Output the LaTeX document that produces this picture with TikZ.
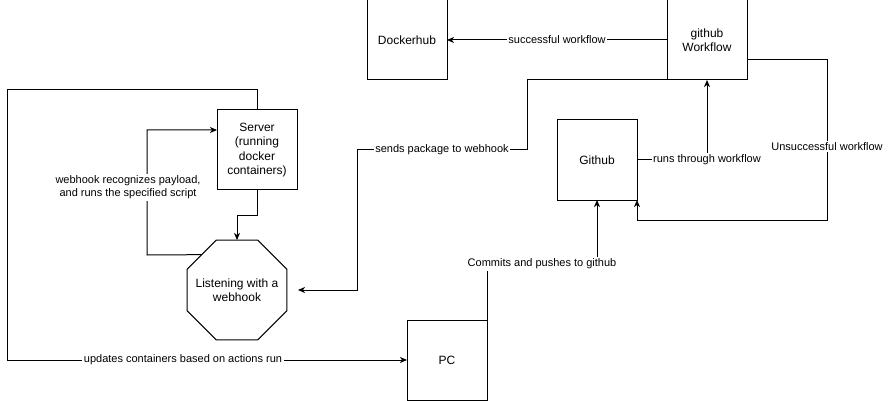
\documentclass[tikz,border=0pt]{standalone}
\usepackage{fontspec}
\setmainfont{Liberation Sans}
\usetikzlibrary{arrows.meta,shapes.geometric}

\begin{document}
\begin{tikzpicture}[x=1pt,y=-1pt,line width=1pt,
    >={Stealth[length=7pt,width=6pt,inset=2pt]},
    box/.style={draw,minimum width=80pt,minimum height=80pt,inner sep=0pt,
      outer sep=0pt,align=center,font=\fontsize{12}{14.5}\selectfont},
    octagon/.style={draw,regular polygon,regular polygon sides=8,
      minimum size=108.2pt,inner sep=0pt,outer sep=0pt},
    octtext/.style={align=center,font=\fontsize{12}{14.5}\selectfont},
    description/.style={fill=white,inner sep=1.5pt,font=\fontsize{11}{13}\selectfont}]
    \useasboundingbox (0,0) rectangle (892,401);
    \node[box] (dock) at (407,40) {Dockerhub};
    \node[box] (flow) at (707,40) {github\\Workflow};
    \node[box] (srv) at (257,150) {Server\\(running\\docker\\containers)};
    \node[box] (git) at (597,160) {Github};
    \node[box] (pc) at (447,360) {PC};
    \node[octagon,label={[octtext]center:Listening with a\\webhook}] (listen) at (237,290) {};
    \coordinate (uns) at (827,220);
    \coordinate (send) at (527,150);
    \coordinate (hookin) at (357,290);
    \coordinate (cmt) at (542,264);
    \coordinate (loopL) at (147,255);
    \coordinate (upd) at (7,90);
    % workflow results
    \draw[->] (flow) -- node[description] {successful workflow} (dock);
    \draw[->] ([yshift=-20pt]flow.east) -| node[description,pos=0.77] {Unsuccessful workflow} (uns) -| (git.south east);
    \draw[->] (git.east) -| node[description,pos=0.5] {runs through workflow} (flow.south);
    \draw[->] (flow.south west) -| (send) -- node[description] {sends package to webhook} (send -| hookin)
      -- (hookin) -- ([xshift=11pt]listen.east);
    % pc and server
    \draw[->] (pc.north east) |- (cmt) node[description] {Commits and pushes to github} -| (git.south);
    \draw[->] (srv.south) -- ++(0,25) -| (listen.north);
    \draw[->] (listen.north west) -- (loopL) |- node[description,pos=0.27,xshift=-19pt,align=center]
      {webhook recognizes payload,\\and runs the specified script} ([yshift=20pt]srv.west);
    \draw[->] (srv.north) |- (upd) |- node[description,pos=0.72] {updates containers based on actions run} (pc.west);
\end{tikzpicture}
\end{document}
